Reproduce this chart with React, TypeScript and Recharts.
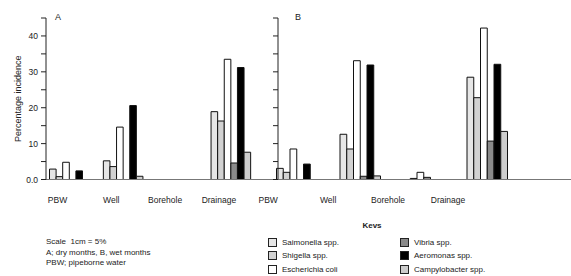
import { BarChart, Bar, XAxis, YAxis } from "recharts";

const categories = ["PBW", "Well", "Borehole", "Drainage"];

// A: dry months
const salmonellaA = [2.9, 5.2, 0, 18.9];
const shigellaA = [0.8, 3.6, 0, 16.3];
const ecoliA = [4.8, 14.6, 0, 33.5];
const vibriaA = [0, 0, 0, 4.6];
const aeromonasA = [2.4, 20.6, 0, 31.2];
const campylobacterA = [0, 0.9, 0, 7.6];

// B: wet months
const salmonellaB = [3.1, 12.6, 0, 28.5];
const shigellaB = [2.0, 8.5, 0.3, 22.8];
const ecoliB = [8.5, 33.1, 2.0, 42.2];
const vibriaB = [0, 0.9, 0.6, 10.7];
const aeromonasB = [4.3, 31.9, 0, 32.1];
const campylobacterB = [0, 1.0, 0, 13.4];

const yTicks = [0, 5, 10, 15, 20, 25, 30, 35, 40, 45];

const series = [
  { key: "salmonella", name: "Saimonella spp.", fill: "#e6e6e6" },
  { key: "shigella", name: "Shigella spp.", fill: "#d2d2d2" },
  { key: "ecoli", name: "Escherichia coli", fill: "#ffffff" },
  { key: "vibria", name: "Vibria spp.", fill: "#8a8a8a" },
  { key: "aeromonas", name: "Aeromonas spp.", fill: "#000000" },
  { key: "campylobacter", name: "Campylobacter spp.", fill: "#cdcdcd" },
];

const notes = ["Scale  1cm = 5%", "A; dry months, B, wet months", "PBW; pipeborne water"];

const font = '"Liberation Sans", Arial, sans-serif';

function toRows(values: number[][]) {
  return categories.map((cat, i) => {
    const row: Record<string, string | number> = { cat };
    series.forEach((s, j) => {
      row[s.key] = values[j][i];
    });
    return row;
  });
}

const dataA = toRows([salmonellaA, shigellaA, ecoliA, vibriaA, aeromonasA, campylobacterA]);
const dataB = toRows([salmonellaB, shigellaB, ecoliB, vibriaB, aeromonasB, campylobacterB]);

const tickFmt = (v: number) => (v === 0 ? "0.0" : v % 10 === 0 ? String(v) : "");

function YLabel(props: any) {
  const { viewBox } = props;
  const x = viewBox.x + 18;
  const y = viewBox.y + viewBox.height / 2;
  return (
    <text
      x={x}
      y={y}
      transform={`rotate(-90 ${x} ${y})`}
      textAnchor="middle"
      dominantBaseline="central"
      fontSize={9}
      fill="#222"
    >
      Percentage incidence
    </text>
  );
}

type Pad = { left: number; right: number };

type PanelProps = {
  data: Record<string, string | number>[];
  left: number;
  width: number;
  axisWidth: number;
  barPad: Pad;
  labelPad: Pad;
  barSize: number;
  labelled: boolean;
};

function Panel({ data, left, width, axisWidth, barPad, labelPad, barSize, labelled }: PanelProps) {
  return (
    <div style={{ position: "absolute", top: 0, left }}>
      <BarChart
        width={width}
        height={210}
        data={data}
        margin={{ top: 18, right: 0, bottom: 0, left: 0 }}
        barGap={0}
        barSize={barSize}
      >
        <XAxis xAxisId="bars" dataKey="cat" hide height={0} padding={barPad} />
        <XAxis
          xAxisId="labels"
          dataKey="cat"
          height={30.5}
          padding={labelPad}
          stroke="#777"
          tickLine={false}
          tickSize={0}
          tickMargin={17.5}
          interval={0}
          tick={{ fontSize: 8.5, fill: "#222" }}
        />
        <YAxis
          domain={[0, 45]}
          ticks={yTicks}
          interval={0}
          width={axisWidth}
          stroke="#222"
          tickSize={5}
          tickMargin={3}
          tick={{ fontSize: 8.5, fill: "#222" }}
          tickFormatter={labelled ? tickFmt : () => ""}
          label={labelled ? { content: YLabel } : undefined}
        />
        {series.map((s) => (
          <Bar
            key={s.key}
            xAxisId="bars"
            dataKey={s.key}
            name={s.name}
            fill={s.fill}
            stroke="#111"
            strokeWidth={1}
            isAnimationActive={false}
          />
        ))}
      </BarChart>
    </div>
  );
}

export default function App() {
  const col1 = series.slice(0, 3);
  const col2 = series.slice(3);
  const item = (s: (typeof series)[number], x: number, y: number) => (
    <div key={s.key} style={{ position: "absolute", left: x, top: y - 6, height: 12, display: "flex", alignItems: "center", whiteSpace: "nowrap" }}>
      <span style={{ width: 7, height: 7, background: s.fill, border: "1px solid #222", marginRight: 5 }} />
      <span>{s.name}</span>
    </div>
  );
  return (
    <div
      style={{
        position: "absolute",
        left: 0,
        top: 0,
        width: 571,
        height: 276,
        overflow: "hidden",
        background: "#fff",
        fontFamily: font,
        fontSize: 8,
        color: "#222",
      }}
    >
      <Panel
        data={dataA}
        left={0}
        width={277}
        axisWidth={46}
        barPad={{ left: -3.5, right: 19.1 }}
        labelPad={{ left: -15.4, right: 31.2 }}
        barSize={6.6}
        labelled
      />
      <Panel
        data={dataB}
        left={258}
        width={313}
        axisWidth={20}
        barPad={{ left: -13.5, right: 52.5 }}
        labelPad={{ left: -39.8, right: 93 }}
        barSize={6.75}
        labelled={false}
      />

      <div style={{ position: "absolute", left: 55, top: 12, fontSize: 9 }}>A</div>
      <div style={{ position: "absolute", left: 295, top: 12, fontSize: 9 }}>B</div>

      <div style={{ position: "absolute", left: 46, top: 237, lineHeight: "10.5px", whiteSpace: "pre" }}>
        {notes.map((n) => (
          <div key={n}>{n}</div>
        ))}
      </div>

      <div style={{ position: "absolute", left: 355, top: 221, width: 34, textAlign: "center", fontWeight: "bold" }}>Kevs</div>
      {col1.map((s, i) => item(s, 268, 242 + i * 13.5))}
      {col2.map((s, i) => item(s, 400, 242 + i * 13.5))}
    </div>
  );
}
